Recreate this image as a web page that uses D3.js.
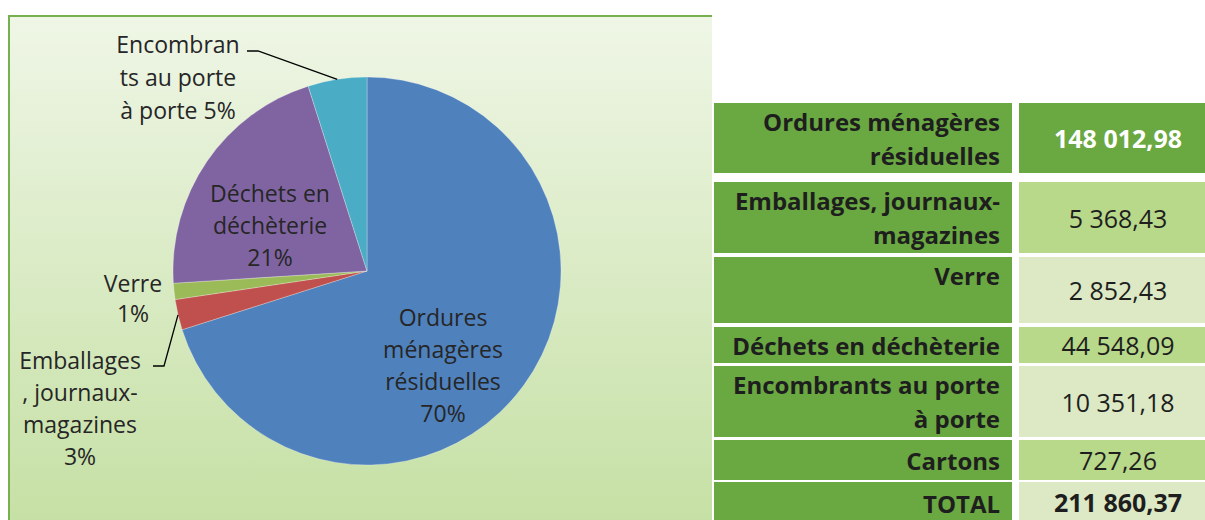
<!DOCTYPE html>
<html>
<head>
<meta charset="utf-8">
<script src="https://cdn.jsdelivr.net/npm/d3@7"></script>
<style>
  body { margin: 0; background: #fff; }
  svg { display: block; font-family: "Open Sans", "Noto Sans", sans-serif; }
</style>
</head>
<body>
<div id="chart"></div>
<script>
// data
var categories = ["Ordures ménagères résiduelles", "Emballages, journaux-magazines", "Verre",
                  "Déchets en déchèterie", "Encombrants au porte à porte"];
var tonnages = [148012.98, 5368.43, 2852.43, 44548.09, 10351.18];
var pieLabels = [
    ["Ordures", "ménagères", "résiduelles"],
    ["Emballages", ", journaux-", "magazines"],
    ["Verre"],
    ["Déchets en", "déchèterie"],
    ["Encombran", "ts au porte", "à porte"]
];
var colors = ["#4f81bd", "#c0504d", "#9bbb59", "#8064a2", "#4bacc6"];

var tableLabels = [
    ["Ordures ménagères", "résiduelles"],
    ["Emballages, journaux-", "magazines"],
    ["Verre"],
    ["Déchets en déchèterie"],
    ["Encombrants au porte", "à porte"],
    ["Cartons"],
    ["TOTAL"]
];
var tableValues = [148012.98, 5368.43, 2852.43, 44548.09, 10351.18, 727.26, 211860.37];

// french number format : "148 012,98"
var fr = d3.formatLocale({ decimal: ",", thousands: " ", grouping: [3], currency: ["", " €"] });
var fmt = fr.format(",.2f");

var W = 1205, H = 520;
var svg = d3.select("#chart").append("svg")
    .attr("width", W)
    .attr("height", H);

// background gradient of the chart area
var defs = svg.append("defs");
var grad = defs.append("linearGradient")
    .attr("id", "bg")
    .attr("x1", 0).attr("y1", 0).attr("x2", 0).attr("y2", 1);
grad.append("stop").attr("offset", "0%").attr("stop-color", "#eff6e6");
grad.append("stop").attr("offset", "100%").attr("stop-color", "#c5e0a4");

svg.append("rect")
    .attr("x", 8).attr("y", 15)
    .attr("width", 704).attr("height", 510)
    .attr("fill", "url(#bg)");
// only top and left border are visible
svg.append("path")
    .attr("d", "M9,525V16H712")
    .attr("fill", "none")
    .attr("stroke", "#77b04f")
    .attr("stroke-width", 2);

// pie
var cx = 367, cy = 271, r = 194;
var pie = d3.pie().sort(null).value(function (d) { return d; });
var arcs = pie(tonnages);
var total = d3.sum(tonnages);
var arc = d3.arc().innerRadius(0).outerRadius(r);

var g = svg.append("g").attr("transform", "translate(" + cx + "," + cy + ")");
g.selectAll("path.slice")
    .data(arcs)
    .enter()
    .append("path")
    .attr("class", "slice")
    .attr("d", arc)
    .attr("fill", function (d, i) { return colors[i]; })
    .attr("stroke", "#ffffff")
    .attr("stroke-opacity", 0.35)
    .attr("stroke-width", 0.8);

// label placement (relative to pie centre)
var labelPos = [
    { x: 76, y: 46, lh: 32 },
    { x: -287, y: 89, lh: 32 },
    { x: -234, y: 12, lh: 30 },
    { x: -97, y: -78, lh: 32 },
    { x: -189, y: -227, lh: 33 }
];
// leader line elbows for labels placed outside
var leaders = [null, { x1: -214, x2: -203, y: 95 }, null, null, { x1: -120, x2: -109, y: -220 }];

leaders.forEach(function (l, i) {
    if (!l) return;
    var a = (arcs[i].startAngle + arcs[i].endAngle) / 2;
    var ex = Math.sin(a) * r, ey = -Math.cos(a) * r;
    g.append("path")
        .attr("d", "M" + l.x1 + "," + l.y + "L" + l.x2 + "," + l.y + "L" + ex + "," + ey)
        .attr("fill", "none")
        .attr("stroke", "#000")
        .attr("stroke-width", 1.3);
});

arcs.forEach(function (d, i) {
    var pct = Math.round(d.value / total * 100) + "%";
    var lines = pieLabels[i].slice();
    if (i === 4) lines[lines.length - 1] += " " + pct;
    else lines.push(pct);
    var p = labelPos[i];
    var t = g.append("text")
        .attr("text-anchor", "middle")
        .attr("fill", "#262626")
        .style("font-size", "23px");
    lines.forEach(function (s, k) {
        t.append("tspan")
            .attr("x", p.x)
            .attr("y", p.y + k * p.lh)
            .attr("dominant-baseline", "central")
            .text(s);
    });
});

// table
var rows = [
    { y0: 103, y1: 173, fill: "#6aa842", valign: "middle" },
    { y0: 182, y1: 253, fill: "#b8d88a", valign: "middle" },
    { y0: 257, y1: 323, fill: "#dce9c4", valign: "top" },
    { y0: 327, y1: 363, fill: "#b8d88a", valign: "middle" },
    { y0: 366, y1: 437, fill: "#dce9c4", valign: "middle" },
    { y0: 440, y1: 480, fill: "#b8d88a", valign: "middle" },
    { y0: 482, y1: 525, fill: "#dce9c4", valign: "middle" }
];
var colL = { x0: 714, x1: 1012 }, colR = { x0: 1019, x1: 1205 };
var lh = 34;

var tb = svg.append("g");
rows.forEach(function (row, i) {
    tb.append("rect")
        .attr("x", colL.x0).attr("y", row.y0)
        .attr("width", colL.x1 - colL.x0).attr("height", row.y1 - row.y0)
        .attr("fill", "#6aa842");
    tb.append("rect")
        .attr("x", colR.x0).attr("y", row.y0)
        .attr("width", colR.x1 - colR.x0).attr("height", row.y1 - row.y0)
        .attr("fill", row.fill);

    var lines = tableLabels[i];
    var mid = (row.y0 + row.y1) / 2;
    var yStart = row.valign === "top" ? row.y0 + 18 : mid - (lines.length - 1) * lh / 2;
    var t = tb.append("text")
        .attr("text-anchor", "end")
        .attr("fill", "#1e1e1e")
        .style("font-size", "24px")
        .style("font-weight", "bold");
    lines.forEach(function (s, k) {
        t.append("tspan")
            .attr("x", colL.x1 - 12)
            .attr("y", yStart + k * lh)
            .attr("dominant-baseline", "central")
            .text(s);
    });

    var bold = (i === 0 || i === rows.length - 1);
    tb.append("text")
        .attr("x", 1118)
        .attr("y", i === rows.length - 1 ? 502 : mid)
        .attr("text-anchor", "middle")
        .attr("dominant-baseline", "central")
        .attr("fill", i === 0 ? "#ffffff" : "#1e1e1e")
        .style("font-size", "25px")
        .style("font-weight", bold ? "bold" : "normal")
        .text(fmt(tableValues[i]));
});
</script>
</body>
</html>
